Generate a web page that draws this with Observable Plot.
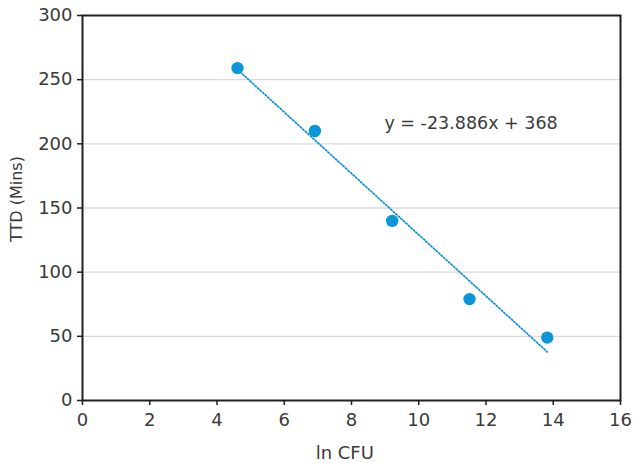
<!DOCTYPE html>
<html><head><meta charset="utf-8">
<script src="https://cdn.jsdelivr.net/npm/d3@7"></script>
<script src="https://cdn.jsdelivr.net/npm/@observablehq/plot@0.6"></script>
<style>body{margin:0;background:#fff;}</style>
</head><body><div id="chart"></div>
<script>
const lnCFU = [4.61, 6.91, 9.21, 11.51, 13.82];
const ttd = [259, 210, 140, 79, 49];
const slope = -23.886;
const intercept = 368;
const equationText = "y = -23.886x + 368";
const xTitle = "ln CFU";
const yTitle = "TTD (Mins)";
const xTicks = [0, 2, 4, 6, 8, 10, 12, 14, 16];
const yTicks = [0, 50, 100, 150, 200, 250, 300];
const gridTicks = [50, 100, 150, 200, 250];

const points = lnCFU.map((x, i) => ({x, y: ttd[i]}));
const xEnds = [lnCFU[0], lnCFU[lnCFU.length - 1]];
const trend = xEnds.map(x => ({x, y: slope * x + intercept}));

const blue = "#0b96d9";
const ink = "#3a3a3a";
const chart = Plot.plot({
  width: 634,
  height: 463,
  marginLeft: 82,
  marginRight: 14,
  marginTop: 15,
  marginBottom: 63,
  style: {fontFamily: "'DejaVu Sans', sans-serif", fontSize: "18px", color: ink, background: "#fff"},
  x: {domain: [0, 16]},
  y: {domain: [0, 300]},
  marks: [
    Plot.gridY(gridTicks, {stroke: "#dadada", strokeOpacity: 1, strokeWidth: 1.4}),
    Plot.line(trend, {x: "x", y: "y", stroke: "#0a8fd4", strokeWidth: 1.7, strokeDasharray: "1.4,2"}),
    Plot.dot(points, {x: "x", y: "y", r: 6.2, fill: blue, stroke: "none"}),
    Plot.text([equationText], {x: 8.98, y: 216, text: d => d, textAnchor: "start", fill: ink, fontSize: 17.5}),
    Plot.text([yTitle], {frameAnchor: "left", y: 157, dx: -66, rotate: -90, textAnchor: "middle", lineAnchor: "middle", text: d => d, fill: ink, fontSize: 16}),
    Plot.text([xTitle], {frameAnchor: "bottom", x: 7.8, dy: 53, textAnchor: "middle", lineAnchor: "middle", text: d => d, fill: ink, fontSize: 18}),
    Plot.frame({stroke: "#231f20", strokeWidth: 2}),
    Plot.axisY(yTicks, {tickSize: 5, tickPadding: 5, stroke: "#231f20", strokeWidth: 1.5, fill: ink, label: null}),
    Plot.axisX(xTicks, {tickSize: 5, tickPadding: 8, stroke: "#231f20", strokeWidth: 1.5, fill: ink, label: null})
  ]
});
document.getElementById("chart").appendChild(chart);
</script>
</body></html>
